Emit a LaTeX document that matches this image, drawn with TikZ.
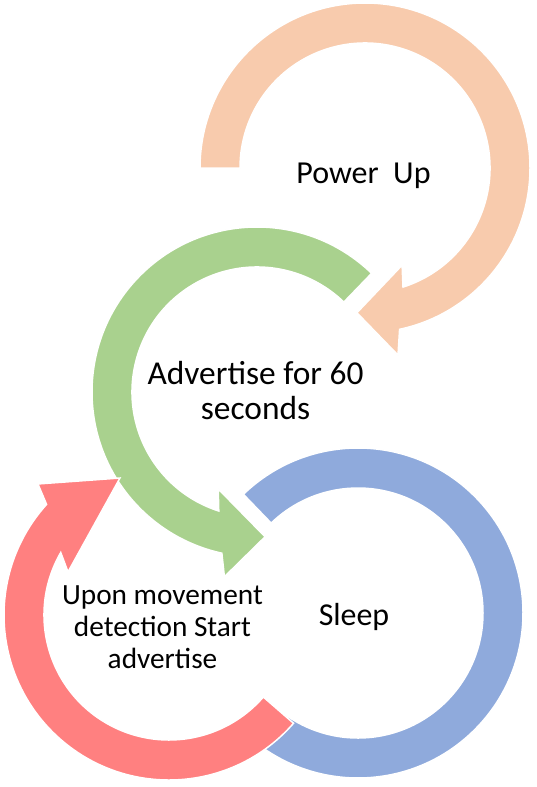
\documentclass[tikz,border=0pt]{standalone}
\usepackage{fontspec}
\setmainfont{Carlito}
\definecolor{orangec}{HTML}{F8CBAD}
\definecolor{greenc}{HTML}{A9D18E}
\definecolor{bluec}{HTML}{8FAADC}
\definecolor{redc}{HTML}{FF8080}
\begin{document}
\begin{tikzpicture}[x=1pt,y=1pt,
  band/.style={draw=white,line width=1.5pt,line join=miter},
  lbl/.style={inner sep=0pt,align=center,anchor=base,text=black}]
\useasboundingbox (0,0) rectangle (537,-787);
% orange: Power Up
\begin{scope}[shift={(365,-168)}]
\fill[orangec,band] (180:165) arc[start angle=180,end angle=-77.9,radius=165]
  -- (-80:190) -- (-93.2:145) -- (-69.1:104) -- (-72.3:125)
  arc[start angle=-72.3,end angle=180,radius=125] -- cycle;
\end{scope}
% green: Advertise
\begin{scope}[shift={(257,-392)}]
\fill[greenc,band] (46:165) arc[start angle=46,end angle=257.7,radius=165]
  -- (260:187.6) -- (273.2:145) -- (248.2:104.4) -- (252.2:125)
  arc[start angle=252.2,end angle=46,radius=125] -- cycle;
\end{scope}
% blue: Sleep
\begin{scope}[shift={(358,-613)}]
\fill[bluec,band] (134:165) arc[start angle=134,end angle=-135,radius=165]
  -- (-135:125) arc[start angle=-135,end angle=134,radius=125] -- cycle;
\end{scope}
% red: movement
\begin{scope}[shift={(169,-615)}]
\fill[redc,band] (-41:165) arc[start angle=-41,end angle=-222.1,radius=165]
  -- (-225:185.3) -- (-250.3:145.5) -- (-203.1:109.8) -- (-210:125)
  arc[start angle=-210,end angle=-41,radius=125] -- cycle;
\end{scope}
\node[lbl,font=\fontsize{32}{35}\selectfont] (power) at (363.5,-183) {Power\ \ Up};
\node[lbl,font=\fontsize{33.4}{35}\selectfont] (adv) at (255.5,-419) {Advertise for 60\\seconds};
\node[lbl,font=\fontsize{31.9}{35}\selectfont] (sleep) at (354,-625) {Sleep};
\node[lbl,font=\fontsize{29.3}{32}\selectfont] (move) at (162.5,-668) {Upon movement\\detection Start\\advertise};
\end{tikzpicture}
\end{document}
